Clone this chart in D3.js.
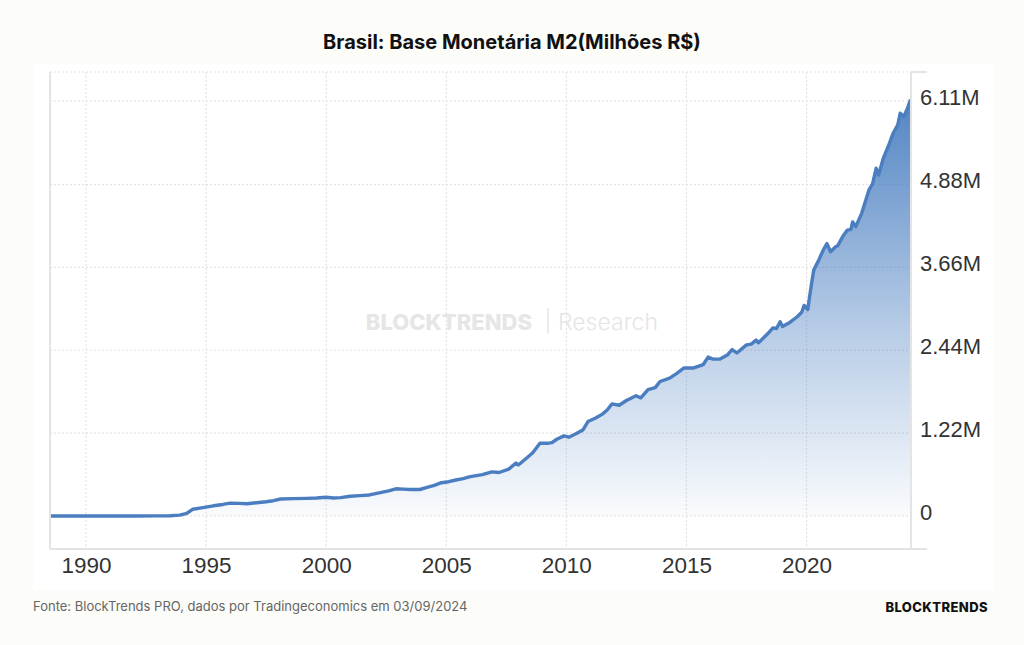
<!DOCTYPE html>
<html>
<head>
<meta charset="utf-8">
<script src="https://cdn.jsdelivr.net/npm/d3@7"></script>
<style>
  body { margin: 0; background: #fcfcf9; }
  svg { display: block; }
</style>
</head>
<body>
<script>
// Base Monetaria M2, milhoes de R$
let years = [1988.5, 1989.0, 1990.0, 1991.0, 1992.0, 1993.0, 1993.5, 1993.9, 1994.2, 1994.45,
  1994.8, 1995.3, 1995.7, 1996.0, 1996.4, 1996.7, 1997.1, 1997.5, 1997.8, 1998.1,
  1998.6, 1999.2, 1999.6, 2000.0, 2000.3, 2000.6, 2001.0, 2001.4, 2001.8, 2002.2,
  2002.6, 2002.9, 2003.2, 2003.5, 2003.9, 2004.2, 2004.5, 2004.8, 2005.1, 2005.4,
  2005.7, 2006.0, 2006.5, 2006.9, 2007.2, 2007.6, 2007.9, 2008.0, 2008.3, 2008.6,
  2008.9, 2009.2, 2009.4, 2009.6, 2009.9, 2010.1, 2010.4, 2010.7, 2010.9, 2011.2,
  2011.5, 2011.7, 2011.9, 2012.2, 2012.5, 2012.9, 2013.1, 2013.4, 2013.7, 2013.9,
  2014.3, 2014.6, 2014.9, 2015.3, 2015.7, 2015.9, 2016.1, 2016.4, 2016.7, 2016.9,
  2017.1, 2017.5, 2017.7, 2017.9, 2018.0, 2018.4, 2018.6, 2018.75, 2018.9, 2019.0,
  2019.3, 2019.6, 2019.8, 2019.9, 2020.05, 2020.2, 2020.3, 2020.5, 2020.7, 2020.85,
  2021.0, 2021.2, 2021.3, 2021.5, 2021.7, 2021.85, 2021.92, 2022.05, 2022.3, 2022.6,
  2022.75, 2022.9, 2023.0, 2023.2, 2023.4, 2023.6, 2023.8, 2023.9, 2024.05, 2024.2,
  2024.33];

let m2Values = [0, 0, 0, 0, 0, 1000, 3000, 12000, 40000, 100000,
  120000, 150000, 170000, 190000, 185000, 180000, 195000, 210000, 225000, 250000,
  255000, 260000, 265000, 275000, 265000, 270000, 290000, 300000, 310000, 340000,
  370000, 400000, 395000, 390000, 390000, 420000, 450000, 490000, 505000, 530000,
  550000, 580000, 610000, 650000, 640000, 690000, 780000, 750000, 840000, 930000,
  1070000, 1070000, 1080000, 1130000, 1180000, 1160000, 1210000, 1270000, 1390000, 1440000,
  1500000, 1560000, 1650000, 1630000, 1700000, 1770000, 1740000, 1860000, 1890000, 1980000,
  2030000, 2100000, 2180000, 2180000, 2230000, 2340000, 2310000, 2310000, 2370000, 2450000,
  2400000, 2520000, 2530000, 2590000, 2550000, 2690000, 2770000, 2760000, 2860000, 2790000,
  2850000, 2930000, 3000000, 3100000, 3040000, 3400000, 3620000, 3760000, 3920000, 4010000,
  3890000, 3960000, 3980000, 4110000, 4210000, 4220000, 4330000, 4260000, 4460000, 4800000,
  4890000, 5120000, 5020000, 5270000, 5440000, 5630000, 5760000, 5930000, 5880000, 6000000,
  6130000];

let yearTicks = [1990, 1995, 2000, 2005, 2010, 2015, 2020];
let valueTicks = [0, 1220000, 2440000, 3660000, 4880000, 6110000];
let valueLabels = ["0", "1.22M", "2.44M", "3.66M", "4.88M", "6.11M"];

let data = years.map((yr, i) => ({ year: yr, value: m2Values[i] }));

let width = 1024,
  height = 645,
  plotLeft = 50,
  plotRight = 911,
  plotTop = 72,
  plotBottom = 549;

let x = d3.scaleLinear().domain([1988.5, 2024.35]).range([plotLeft, plotRight]);
let y = d3.scaleLinear().domain([-486000, 6537000]).range([plotBottom, plotTop]);

let svg = d3.select("body").append("svg")
  .attr("width", width)
  .attr("height", height);

svg.append("rect")
  .attr("x", 33).attr("y", 64)
  .attr("width", 962).attr("height", 526)
  .attr("fill", "#ffffff");

let defs = svg.append("defs");
let grad = defs.append("linearGradient")
  .attr("id", "fillGrad")
  .attr("x1", 0).attr("y1", 0).attr("x2", 0).attr("y2", 1);
grad.append("stop").attr("offset", "0%").attr("stop-color", "#4a7fc1").attr("stop-opacity", 0.95);
grad.append("stop").attr("offset", "55%").attr("stop-color", "#4a7fc1").attr("stop-opacity", 0.4);
grad.append("stop").attr("offset", "100%").attr("stop-color", "#4a7fc1").attr("stop-opacity", 0.03);

// title
svg.append("text")
  .attr("x", 512).attr("y", 49)
  .attr("text-anchor", "middle")
  .attr("font-family", "Inter, sans-serif")
  .attr("font-weight", 700)
  .attr("font-size", "20px")
  .attr("fill", "#111")
  .text("Brasil: Base Monetária M2(Milhões R$)");

// grid
let grid = svg.append("g").attr("stroke", "#e2e2e2").attr("stroke-dasharray", "2,2").attr("stroke-width", 1.2);
grid.selectAll("line.h").data(valueTicks).enter().append("line")
  .attr("x1", plotLeft).attr("x2", plotRight)
  .attr("y1", d => y(d)).attr("y2", d => y(d));
grid.append("line")
  .attr("x1", plotLeft).attr("x2", plotRight)
  .attr("y1", plotTop).attr("y2", plotTop);
grid.selectAll("line.v").data(yearTicks).enter().append("line")
  .attr("x1", d => x(d)).attr("x2", d => x(d))
  .attr("y1", plotTop).attr("y2", plotBottom);

// watermark
svg.append("text")
  .attr("x", 532).attr("y", 330)
  .attr("text-anchor", "end")
  .attr("font-family", "Inter, sans-serif")
  .attr("font-weight", 800)
  .attr("font-size", "22px")
  .attr("fill", "#e6e6e6")
  .text("BLOCKTRENDS");
svg.append("text")
  .attr("x", 558).attr("y", 330)
  .attr("font-family", "Inter, sans-serif")
  .attr("font-weight", 300)
  .attr("font-size", "23px")
  .attr("fill", "#e6e6e6")
  .text("Research");
svg.append("line")
  .attr("x1", 548).attr("x2", 548).attr("y1", 308).attr("y2", 334)
  .attr("stroke", "#e6e6e6").attr("stroke-width", 1.5);

// area + line
let area = d3.area()
  .x(d => x(d.year))
  .y0(y(0))
  .y1(d => y(d.value));

let line = d3.line()
  .x(d => x(d.year))
  .y(d => y(d.value));

svg.append("path")
  .datum(data)
  .attr("d", area)
  .attr("fill", "url(#fillGrad)");

svg.append("path")
  .datum(data)
  .attr("d", line)
  .attr("fill", "none")
  .attr("stroke", "#4a7ec0")
  .attr("stroke-width", 3.4)
  .attr("stroke-linejoin", "round");

// axis frame
let frame = svg.append("g").attr("stroke", "#e4e4e4").attr("stroke-width", 2);
frame.append("line").attr("x1", plotLeft).attr("x2", plotLeft).attr("y1", plotTop).attr("y2", plotBottom);
frame.append("line").attr("x1", plotLeft).attr("x2", 927).attr("y1", plotBottom).attr("y2", plotBottom);
frame.append("line").attr("x1", plotRight).attr("x2", plotRight).attr("y1", plotTop).attr("y2", plotBottom);
frame.append("line").attr("x1", plotRight).attr("x2", 927).attr("y1", plotTop).attr("y2", plotTop);

// x axis labels
let xAxis = d3.axisBottom(x).tickValues(yearTicks).tickFormat(d3.format("d")).tickSize(0).tickPadding(8);
let gx = svg.append("g").attr("transform", `translate(0, ${plotBottom})`).call(xAxis);
gx.select(".domain").remove();
gx.selectAll("text")
  .attr("font-family", "'Liberation Sans', Arial, sans-serif")
  .attr("font-size", "22.5px")
  .attr("fill", "#333");

// y axis labels
let yAxis = d3.axisRight(y).tickValues(valueTicks).tickFormat((d, i) => valueLabels[i]).tickSize(0).tickPadding(9);
let gy = svg.append("g").attr("transform", `translate(${plotRight}, -4)`).call(yAxis);
gy.select(".domain").remove();
gy.selectAll("text")
  .attr("font-family", "'Liberation Sans', Arial, sans-serif")
  .attr("font-size", "22px")
  .attr("fill", "#333");

// footer
svg.append("text")
  .attr("x", 33).attr("y", 611)
  .attr("font-family", "Inter, sans-serif")
  .attr("font-size", "13px")
  .attr("fill", "#666")
  .text("Fonte: BlockTrends PRO, dados por Tradingeconomics em 03/09/2024");

svg.append("text")
  .attr("x", 988).attr("y", 612)
  .attr("text-anchor", "end")
  .attr("font-family", "Inter, sans-serif")
  .attr("font-weight", 800)
  .attr("font-size", "13px")
  .attr("letter-spacing", "0.4px")
  .attr("fill", "#111")
  .text("BLOCKTRENDS");
</script>
</body>
</html>
